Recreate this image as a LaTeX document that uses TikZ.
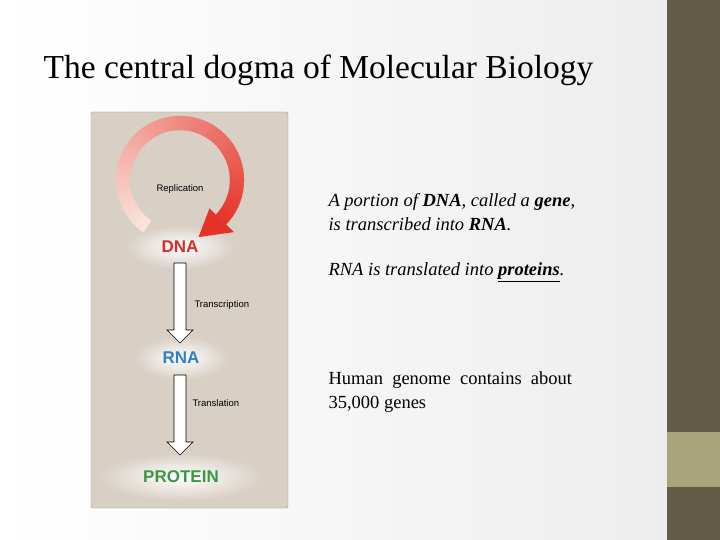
\documentclass[tikz,border=0pt]{standalone}
\usepackage{fontspec}
\setmainfont{Liberation Serif}
\setsansfont{Liberation Sans}
\usetikzlibrary{shapes.geometric}
\definecolor{panel}{RGB}{216,207,197}
\definecolor{olive}{RGB}{99,92,70}
\definecolor{sage}{RGB}{168,165,125}
\definecolor{dnared}{RGB}{215,45,45}
\definecolor{rnablue}{RGB}{45,130,200}
\definecolor{protgreen}{RGB}{60,150,70}
\definecolor{loopend}{RGB}{228,50,40}
\definecolor{loopstart}{RGB}{250,228,220}
\tikzset{
  glow/.style={ellipse, inner color=white, outer color=panel, minimum height=44pt},
  mol/.style={font=\sffamily\bfseries\fontsize{17}{17}\selectfont},
  step label/.style={anchor=west, font=\sffamily\fontsize{9.5}{9.5}\selectfont},
  body/.style={anchor=west, font=\fontsize{18.5}{24}\selectfont, align=left},
  hollow/.style={draw=black, fill=white, line width=0.6pt}
}
\begin{document}
\begin{tikzpicture}[x=1pt,y=-1pt]
\useasboundingbox (0,0) rectangle (720,540);
% background
\shade[left color=white, right color=black!7] (0,0) rectangle (667,540);
\fill[olive] (667,0) rectangle (720,540);
\fill[sage] (667,432) rectangle (720,487);
% title
\node[anchor=west, font=\fontsize{33.5}{33.5}\selectfont] (title) at (40,70) {The central dogma of Molecular Biology};
% panel
\draw[black!40, fill=panel, rounded corners=2pt] (91,112) rectangle (288,508);
% glows and molecules
\node[glow, minimum width=110pt] (dna) at (180,247) {};
\node[mol, text=dnared] at (dna) {DNA};
\node[glow, minimum width=95pt] (rna) at (181,358) {};
\node[mol, text=rnablue] at (rna) {RNA};
\node[glow, minimum width=165pt, minimum height=48pt] (prot) at (181,477) {};
\node[mol, text=protgreen] at (prot) {PROTEIN};
% replication loop
\foreach \a [evaluate=\a as \p using {int((235-\a)/280*100)}] in {235,230,...,-40}
  \fill[loopend!\p!loopstart, draw=loopend!\p!loopstart, line width=0.2pt] ({180+50*cos(\a)},{180-50*sin(\a)}) -- ({180+64*cos(\a)},{180-64*sin(\a)})
    -- ({180+64*cos(\a-5.3)},{180-64*sin(\a-5.3)}) -- ({180+50*cos(\a-5.3)},{180-50*sin(\a-5.3)}) -- cycle;
\fill[loopend] ({180+41*cos(-44)},{180-41*sin(-44)}) -- ({180+75*cos(-44)},{180-75*sin(-44)}) -- ({180+60*cos(-72)},{180-60*sin(-72)}) -- cycle;
\node[step label, anchor=center] (rep) at (180,189) {Replication};
% transcription and translation arrows
\draw[hollow] (174,263) -- (186,263) -- (186,330) -- (193,330) -- (180,343) -- (167,330) -- (174,330) -- cycle;
\node[step label] (trc) at (191,305) {Transcription};
\draw[hollow] (174,375) -- (186,375) -- (186,442) -- (193,442) -- (180,455) -- (167,442) -- (174,442) -- cycle;
\node[step label] (trl) at (189,403) {Translation};
% text
\node[body] (p1) at (325,212) {\textit{A portion of \textbf{DNA}, called a \textbf{gene},}\\\textit{is transcribed into \textbf{RNA}.}};
\node[body] (p2) at (325,272) {\textit{RNA is translated into \underline{\textbf{proteins}}.}};
\node[body] (p3) at (325,392) {Human\ \ genome\ \ contains\ \ about\\35,000 genes};
\end{tikzpicture}
\end{document}
